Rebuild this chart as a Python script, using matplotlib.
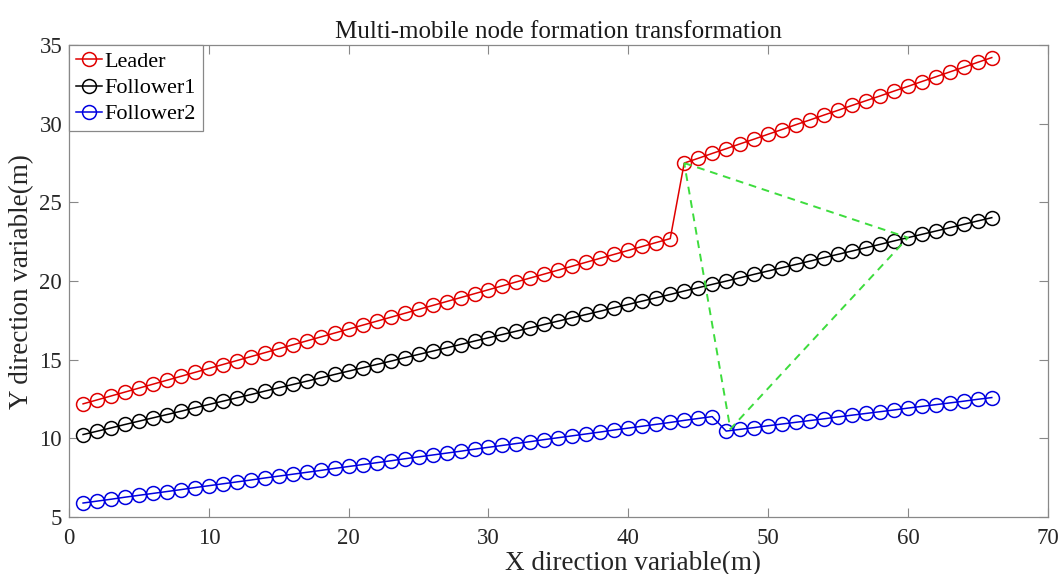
import numpy as np
import matplotlib
matplotlib.use('Agg')
import matplotlib.pyplot as plt

plt.rcParams['font.family'] = ['Liberation Serif', 'DejaVu Serif']

x_steps = list(range(1, 67))

leader_y = [12.20, 12.45, 12.70, 12.95, 13.20, 13.45, 13.70, 13.95, 14.20, 14.45,
            14.70, 14.95, 15.20, 15.45, 15.70, 15.95, 16.20, 16.45, 16.70, 16.95,
            17.20, 17.45, 17.70, 17.95, 18.20, 18.45, 18.70, 18.95, 19.20, 19.45,
            19.70, 19.95, 20.20, 20.45, 20.70, 20.95, 21.20, 21.45, 21.70, 21.95,
            22.20, 22.45, 22.70,
            27.50, 27.80, 28.11, 28.41, 28.72, 29.02, 29.33, 29.63, 29.94, 30.24,
            30.55, 30.85, 31.16, 31.46, 31.76, 32.07, 32.37, 32.68, 32.98, 33.29,
            33.59, 33.90, 34.20]

follower1_y = [10.25, 10.46, 10.67, 10.89, 11.10, 11.31, 11.52, 11.73, 11.95, 12.16,
               12.37, 12.58, 12.79, 13.01, 13.22, 13.43, 13.64, 13.85, 14.07, 14.28,
               14.49, 14.70, 14.91, 15.13, 15.34, 15.55, 15.76, 15.97, 16.19, 16.40,
               16.61, 16.82, 17.03, 17.25, 17.46, 17.67, 17.88, 18.09, 18.31, 18.52,
               18.73, 18.94, 19.15, 19.37, 19.58, 19.79, 20.00, 20.21, 20.43, 20.64,
               20.85, 21.06, 21.27, 21.49, 21.70, 21.91, 22.12, 22.33, 22.55, 22.76,
               22.97, 23.18, 23.39, 23.61, 23.82, 24.03]

follower2_y = [5.90, 6.02, 6.14, 6.27, 6.39, 6.51, 6.63, 6.75, 6.88, 7.00,
               7.12, 7.24, 7.36, 7.49, 7.61, 7.73, 7.85, 7.97, 8.10, 8.22,
               8.34, 8.46, 8.58, 8.71, 8.83, 8.95, 9.07, 9.19, 9.32, 9.44,
               9.56, 9.68, 9.80, 9.93, 10.05, 10.17, 10.29, 10.41, 10.54, 10.66,
               10.78, 10.90, 11.02, 11.15, 11.27, 11.39,
               10.47, 10.58, 10.69, 10.81, 10.92, 11.03, 11.14, 11.25, 11.37, 11.48,
               11.59, 11.70, 11.81, 11.93, 12.04, 12.15, 12.26, 12.37, 12.49, 12.60]

# formation triangle (leader, follower1, follower2 positions)
tri_x = [44, 60, 47.3, 44]
tri_y = [27.5, 22.76, 10.6, 27.5]

x_ticks = [0, 10, 20, 30, 40, 50, 60, 70]
y_ticks = [5, 10, 15, 20, 25, 30, 35]

fig = plt.figure(figsize=(10.63, 5.74), dpi=100)
ax = fig.add_axes([0.065, 0.099, 0.9206, 0.8226])

marker_kw = dict(marker='o', markersize=10, markerfacecolor='none',
                 markeredgewidth=1.1, linewidth=1.1)
ax.plot(x_steps, leader_y, color='#e00000', label='Leader', **marker_kw)
ax.plot(x_steps, follower1_y, color='black', label='Follower1', **marker_kw)
ax.plot(x_steps, follower2_y, color='#0000e0', label='Follower2', **marker_kw)
ax.plot(tri_x, tri_y, '--', color='#3ddc3d', linewidth=1.4, dashes=(4, 3))

ax.set_xlim(0, 70)
ax.set_ylim(5, 35)
ax.set_xticks(x_ticks)
ax.set_yticks(y_ticks)
ax.tick_params(direction='in', length=6.5, width=0.8, top=True, right=True,
               labelsize=16.5, colors='#888888', labelcolor='#262626')
ax.tick_params(axis='x', pad=8)
ax.tick_params(axis='y', pad=5)
for sp in ax.spines.values():
    sp.set_color('#888888')
    sp.set_linewidth(0.9)

ax.set_xlabel('X direction variable(m)', fontsize=19.5, labelpad=1,
              color='#262626', x=0.576)
ax.set_ylabel('Y direction variable(m)', fontsize=19.5, labelpad=4, color='#262626')
ax.set_title('Multi-mobile node formation transformation', fontsize=18,
             pad=5, color='#1a1a1a')

leg = ax.legend(loc='upper left', fontsize=16, handlelength=1.2,
                handletextpad=0.1, borderaxespad=0, borderpad=0.3,
                labelspacing=0.25, fancybox=False, framealpha=1)
leg.get_frame().set_edgecolor('#888888')
leg.get_frame().set_linewidth(0.9)

fig.savefig('out.png', dpi=100)
